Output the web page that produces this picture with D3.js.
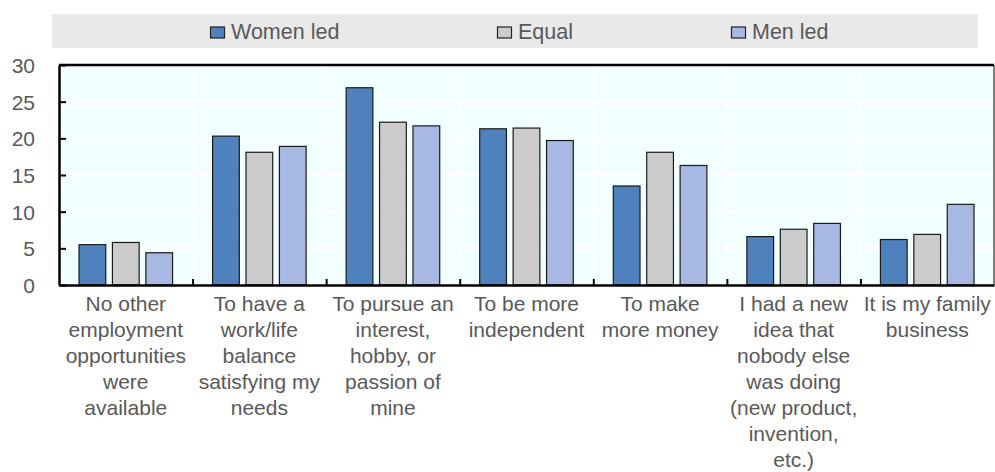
<!DOCTYPE html>
<html>
<head>
<meta charset="utf-8">
<script src="https://cdn.jsdelivr.net/npm/d3@7"></script>
<style>
  body { margin: 0; background: #fff; }
  svg text { font-family: 'Liberation Sans', Arial, sans-serif; fill: #595959; }
</style>
</head>
<body>
<svg id="chart"></svg>
<script>
// data
var categories = [
  ['No other', 'employment', 'opportunities', 'were', 'available'],
  ['To have a', 'work/life', 'balance', 'satisfying my', 'needs'],
  ['To pursue an', 'interest,', 'hobby, or', 'passion of', 'mine'],
  ['To be more', 'independent'],
  ['To make', 'more money'],
  ['I had a new', 'idea that', 'nobody else', 'was doing', '(new product,', 'invention,', 'etc.)'],
  ['It is my family', 'business']
];
var seriesNames = ['Women led', 'Equal', 'Men led'];
var womenLed = [5.5, 20.3, 26.9, 21.3, 13.5, 6.6, 6.2];
var equal    = [5.8, 18.1, 22.2, 21.4, 18.1, 7.6, 6.9];
var menLed   = [4.4, 18.9, 21.7, 19.7, 16.3, 8.4, 11.0];
var yTicks = [0, 5, 10, 15, 20, 25, 30];
var colors = ['#4F81BD', '#CCCCCC', '#A7B9E3'];

var series = [womenLed, equal, menLed];

var W = 995, H = 472;
var margin = { top: 65, right: 1, bottom: 187, left: 59 },
    width  = W - margin.left - margin.right,
    height = H - margin.top - margin.bottom;

var svg = d3.select('#chart').attr('width', W).attr('height', H);

// legend band
svg.append('rect')
  .attr('x', 52).attr('y', 14).attr('width', 926).attr('height', 34)
  .attr('fill', '#E9E9E9');

var legendX = [210, 497, 731];
var legend = svg.selectAll('.legend')
  .data(seriesNames)
  .enter().append('g')
  .attr('class', 'legend')
  .attr('transform', function(d, i){ return 'translate(' + legendX[i] + ',25)'; });
legend.append('rect')
  .attr('x', 0.5).attr('y', 2).attr('width', 14).attr('height', 11)
  .attr('fill', function(d, i){ return colors[i]; })
  .attr('stroke', '#222').attr('stroke-width', 1.2);
legend.append('text')
  .attr('x', 21).attr('y', 13.5)
  .style('font-size', '21.5px')
  .text(function(d){ return d; });

var g = svg.append('g')
  .attr('transform', 'translate(' + margin.left + ',' + margin.top + ')');

var x0 = d3.scaleBand()
  .domain(d3.range(categories.length))
  .range([0, width])
  .paddingInner(0).paddingOuter(0);

var x1 = d3.scaleBand()
  .domain(d3.range(series.length))
  .range([20, x0.bandwidth() - 20])
  .paddingInner(0.2).paddingOuter(0);

var y = d3.scaleLinear().domain([0, 30]).range([height, 0]);

// plot background
g.append('rect')
  .attr('x', 0).attr('y', 0).attr('width', width).attr('height', height)
  .attr('fill', '#F2FFFF');

// grid
g.selectAll('.hgrid')
  .data(yTicks.slice(1, -1))
  .enter().append('line')
  .attr('x1', 0).attr('x2', width)
  .attr('y1', function(d){ return y(d); }).attr('y2', function(d){ return y(d); })
  .attr('stroke', '#fff').attr('stroke-width', 2);

g.selectAll('.vgrid')
  .data(d3.range(1, categories.length))
  .enter().append('line')
  .attr('x1', function(d){ return x0(d); }).attr('x2', function(d){ return x0(d); })
  .attr('y1', 0).attr('y2', height)
  .attr('stroke', '#fff').attr('stroke-width', 2);

// bars
var groups = g.selectAll('.group')
  .data(categories)
  .enter().append('g')
  .attr('transform', function(d, i){ return 'translate(' + x0(i) + ',0)'; });

groups.selectAll('rect')
  .data(function(d, i){ return series.map(function(s, j){ return { s: j, v: s[i] }; }); })
  .enter().append('rect')
  .attr('x', function(d){ return x1(d.s); })
  .attr('width', x1.bandwidth())
  .attr('y', function(d){ return y(d.v); })
  .attr('height', function(d){ return height - y(d.v); })
  .attr('fill', function(d){ return colors[d.s]; })
  .attr('stroke', '#1a1a1a').attr('stroke-width', 1.2);

// frame top / right
g.append('line').attr('x1', 0).attr('x2', width).attr('y1', 0).attr('y2', 0)
  .attr('stroke', '#000').attr('stroke-width', 2.5);
g.append('line').attr('x1', width).attr('x2', width).attr('y1', 0).attr('y2', height)
  .attr('stroke', '#000').attr('stroke-width', 1);

// y axis
var yAxis = d3.axisLeft(y).tickValues(yTicks).tickSizeInner(-7).tickSizeOuter(0).tickPadding(24);
var ya = g.append('g').call(yAxis);
ya.select('.domain').attr('stroke', '#000').attr('stroke-width', 2.5);
ya.selectAll('.tick line').attr('stroke', '#000').attr('stroke-width', 2);
ya.selectAll('.tick text')
  .style('font-size', '21px').attr('fill', '#595959').attr('dy', '0.35em');

// x axis
var xAxis = d3.axisBottom(d3.scaleLinear().domain([0, categories.length]).range([0, width]))
  .tickValues(d3.range(1, categories.length)).tickSizeInner(-6).tickSizeOuter(0).tickFormat('');
var xa = g.append('g').attr('transform', 'translate(0,' + height + ')').call(xAxis);
xa.select('.domain').attr('stroke', '#000').attr('stroke-width', 2.5);
xa.selectAll('.tick line').attr('stroke', '#000').attr('stroke-width', 2);

// category labels
var labels = g.selectAll('.catlabel')
  .data(categories)
  .enter().append('text')
  .attr('class', 'catlabel')
  .attr('text-anchor', 'middle')
  .attr('transform', function(d, i){ return 'translate(' + (x0(i) + x0.bandwidth() / 2) + ',' + (height + 26) + ')'; })
  .style('font-size', '21px');
labels.selectAll('tspan')
  .data(function(d){ return d; })
  .enter().append('tspan')
  .attr('x', 0)
  .attr('y', function(d, i){ return i * 26; })
  .text(function(d){ return d; });
</script>
</body>
</html>
